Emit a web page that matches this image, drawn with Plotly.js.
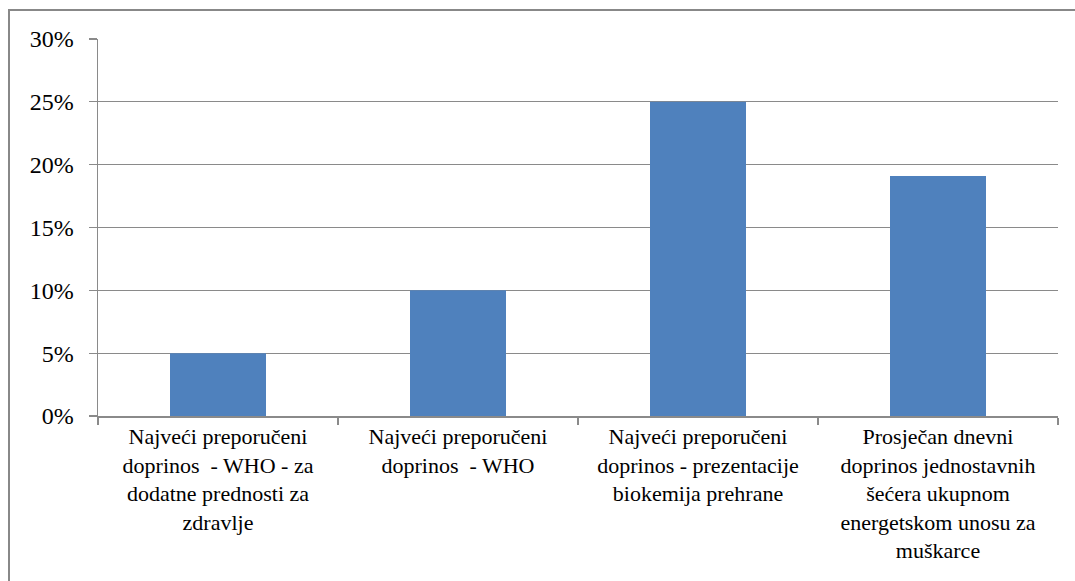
<!DOCTYPE html>
<html>
<head>
<meta charset="utf-8">
<script src="https://cdn.plot.ly/plotly-3.0.1.min.js"></script>
<style>
  body { margin: 0; background: #fff; }
  #chart text { font-family: 'Liberation Serif', 'Times New Roman', serif !important; fill: #000 !important; }
</style>
</head>
<body>
<div id="chart"></div>
<script>
var categories = [
  "Najveći preporučeni<br>doprinos  - WHO - za<br>dodatne prednosti za<br>zdravlje",
  "Najveći preporučeni<br>doprinos  - WHO",
  "Najveći preporučeni<br>doprinos - prezentacije<br>biokemija prehrane",
  "Prosječan dnevni<br>doprinos jednostavnih<br>šećera ukupnom<br>energetskom unosu za<br>muškarce"
];
var values = [0.05, 0.10, 0.25, 0.191];
var yTicks = [0, 0.05, 0.10, 0.15, 0.20, 0.25, 0.30];

var W = 1075, H = 581;
var L = 98, R = 17, T = 39, B = 165;
var pw = W - L - R, ph = H - T - B;
var gridColor = '#8a8a8a';

Plotly.newPlot('chart', [{
  type: 'bar',
  x: categories,
  y: values,
  marker: {color: '#4F81BD'}
}], {
  width: W, height: H,
  margin: {l: L, r: R, t: T, b: B},
  bargap: 0.6,
  showlegend: false,
  font: {family: 'Liberation Serif', size: 22, color: '#000'},
  xaxis: {
    type: 'category',
    showgrid: false,
    showline: true, linecolor: gridColor, linewidth: 1.5,
    ticks: 'outside', ticklen: 7, tickcolor: gridColor, tickwidth: 1.5,
    tickson: 'boundaries',
    tickfont: {family: 'Liberation Serif', size: 22, color: '#000'},
    tickangle: 0
  },
  yaxis: {
    range: [0, 0.30],
    tickvals: yTicks,
    tickformat: '.0%',
    showgrid: true, gridcolor: gridColor, gridwidth: 1.3,
    zeroline: false,
    showline: true, linecolor: gridColor, linewidth: 1.5,
    ticks: 'outside', ticklen: 8, tickcolor: gridColor, tickwidth: 1.3,
    ticklabelstandoff: 10,
    tickfont: {family: 'Liberation Serif', size: 24, color: '#000'}
  },
  shapes: [{
    type: 'rect', xref: 'paper', yref: 'paper',
    x0: (9 - L) / pw, x1: (1090 - L) / pw,
    y0: ((H - B) - 600) / ph, y1: ((H - B) - 10) / ph,
    line: {color: '#888888', width: 2},
    layer: 'below'
  }]
}, {staticPlot: true});
</script>
</body>
</html>
